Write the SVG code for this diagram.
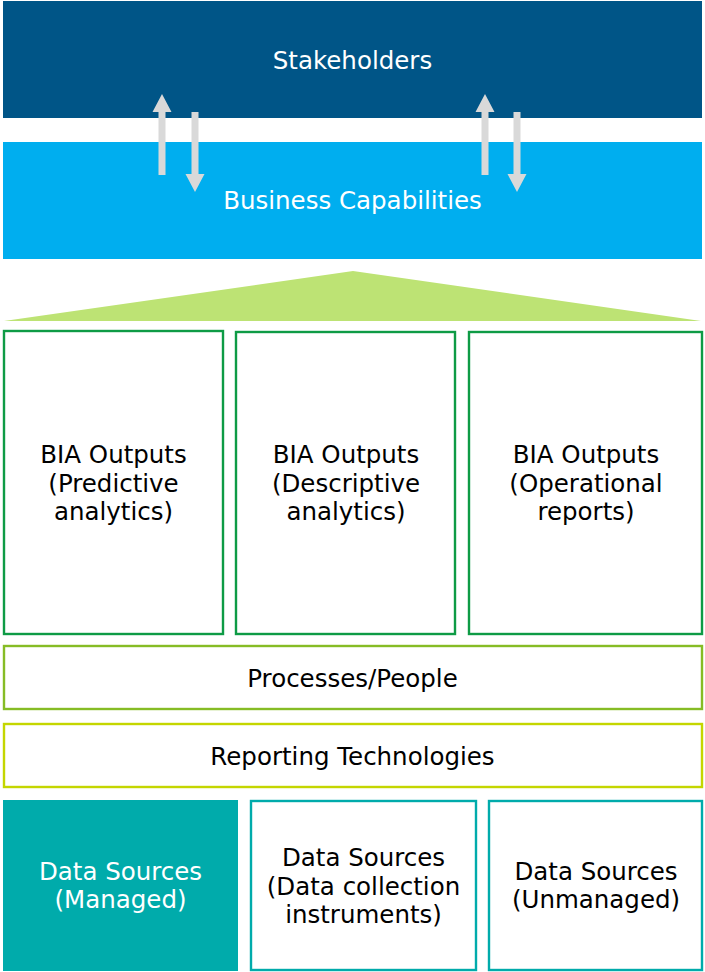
<svg xmlns="http://www.w3.org/2000/svg" width="705" height="972" viewBox="0 0 705 972">
<style>
text{font-family:"DejaVu Sans","Verdana",sans-serif;font-size:24.5px;text-anchor:middle;fill:#000}
.w{fill:#fff}
.bia{fill:#fff;stroke:#0E9B45;stroke-width:2.4}
.ds{fill:#fff;stroke:#00ABAB;stroke-width:2.4}
.arr{fill:#D9D9D9}
</style>
<rect width="705" height="972" fill="#fff"/>
<g id="stakeholders">
<rect x="3" y="1" width="699" height="117" fill="#005587"/>
<text class="w" x="352.5" y="69">Stakeholders</text>
</g>
<g id="business-capabilities">
<rect x="3" y="142" width="699" height="117" fill="#00AEEF"/>
<text class="w" x="352.5" y="209">Business Capabilities</text>
</g>
<g id="connectors">
<polygon class="arr" points="158.5,175 158.5,112 152.5,112 162,94 171.5,112 165.5,112 165.5,175"/>
<polygon class="arr" points="191.5,112 198.5,112 198.5,174 204.5,174 195,192 185.5,174 191.5,174"/>
<polygon class="arr" points="481.5,175 481.5,112 475.5,112 485,94 494.5,112 488.5,112 488.5,175"/>
<polygon class="arr" points="513.5,112 520.5,112 520.5,174 526.5,174 517,192 507.5,174 513.5,174"/>
</g>
<g id="triangle">
<polygon points="4,321 353,271 701,321" fill="#BDE374"/>
</g>
<g id="bia-predictive">
<rect class="bia" x="4" y="331" width="219" height="303"/>
<text x="113.5" y="463">BIA Outputs</text>
<text x="113.5" y="492">(Predictive</text>
<text x="113.5" y="520">analytics)</text>
</g>
<g id="bia-descriptive">
<rect class="bia" x="236" y="332" width="219" height="302"/>
<text x="346" y="463">BIA Outputs</text>
<text x="346" y="492">(Descriptive</text>
<text x="346" y="520">analytics)</text>
</g>
<g id="bia-operational">
<rect class="bia" x="469" y="332" width="233" height="302"/>
<text x="586" y="463">BIA Outputs</text>
<text x="586" y="492">(Operational</text>
<text x="586" y="520">reports)</text>
</g>
<g id="processes-people">
<rect x="4" y="646" width="698" height="63" fill="#fff" stroke="#86BC25" stroke-width="2.4"/>
<text x="352.5" y="687">Processes/People</text>
</g>
<g id="reporting-technologies">
<rect x="4" y="724" width="698" height="63" fill="#fff" stroke="#C4D600" stroke-width="2.4"/>
<text x="352.5" y="765">Reporting Technologies</text>
</g>
<g id="ds-managed">
<rect x="3" y="800" width="235" height="171" fill="#00ABAB"/>
<text class="w" x="120.5" y="880">Data Sources</text>
<text class="w" x="120.5" y="908">(Managed)</text>
</g>
<g id="ds-collection">
<rect class="ds" x="251" y="801" width="225" height="169"/>
<text x="363.5" y="866">Data Sources</text>
<text x="363.5" y="895">(Data collection</text>
<text x="363.5" y="923">instruments)</text>
</g>
<g id="ds-unmanaged">
<rect class="ds" x="489" y="801" width="213" height="169"/>
<text x="596" y="880">Data Sources</text>
<text x="596" y="908">(Unmanaged)</text>
</g>
</svg>
